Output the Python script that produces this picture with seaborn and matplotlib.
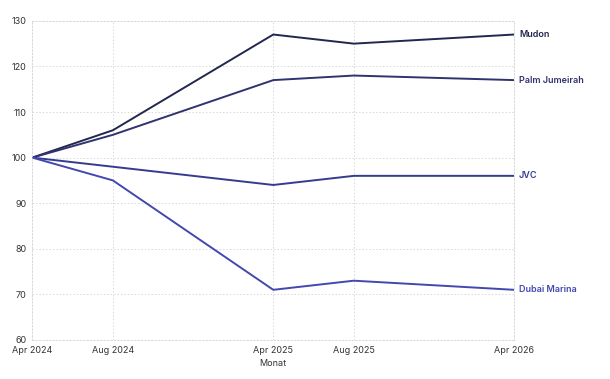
import seaborn as sns
import pandas as pd
import matplotlib.pyplot as plt

# Data
months = ["2024-04-01", "2024-08-01", "2025-04-01", "2025-08-01", "2026-04-01"]
month_labels = ["Apr 2024", "Aug 2024", "Apr 2025", "Aug 2025", "Apr 2026"]
mudon = [100, 106, 127, 125, 127]
palm_jumeirah = [100, 105, 117, 118, 117]
jvc = [100, 98, 94, 96, 96]
dubai_marina = [100, 95, 71, 73, 71]

areas = ["Mudon", "Palm Jumeirah", "JVC", "Dubai Marina"]
colors = ["#23264f", "#30336f", "#363b8f", "#4348b0"]

df = pd.DataFrame({
    "Monat": pd.to_datetime(months * 4),
    "Index": mudon + palm_jumeirah + jvc + dubai_marina,
    "Gebiet": [a for a in areas for _ in months],
})

sns.set_style("white")
plt.rcParams['font.family'] = ['Inter', 'DejaVu Sans']

fig = plt.figure(figsize=(6.1, 3.79), dpi=100)
ax = fig.add_axes([0.053, 0.103, 0.790, 0.842])

sns.lineplot(data=df, x="Monat", y="Index", hue="Gebiet", palette=colors,
             hue_order=areas, linewidth=1.4, legend=False, ax=ax)

# End labels
last = pd.to_datetime(months[-1])
for area, vals, c in zip(areas, [mudon, palm_jumeirah, jvc, dubai_marina], colors):
    ax.annotate(area, xy=(last, vals[-1]), xytext=(3.5, 0), textcoords="offset points",
                va="center", ha="left", fontsize=6.5, fontweight="semibold", color=c,
                annotation_clip=False)

ax.set_xlim(pd.to_datetime(months[0]), last)
ax.set_ylim(60, 130)
ax.set_yticks(range(60, 131, 10))
ax.set_xticks(pd.to_datetime(months))
ax.set_xticklabels(month_labels)
ax.tick_params(axis="both", labelsize=6.5, labelcolor="#333333", length=0, pad=4)

ax.grid(True, color="#d8d8d8", linestyle=(0, (1.5, 2)), linewidth=0.7)
for s in ax.spines.values():
    s.set_color("#d8d8d8")
    s.set_linestyle((0, (1.5, 2)))
    s.set_linewidth(0.7)

ax.set_xlabel("Monat", fontsize=6.5, color="#333333", labelpad=3)
ax.set_ylabel("")

plt.savefig("out.png", dpi=100)
